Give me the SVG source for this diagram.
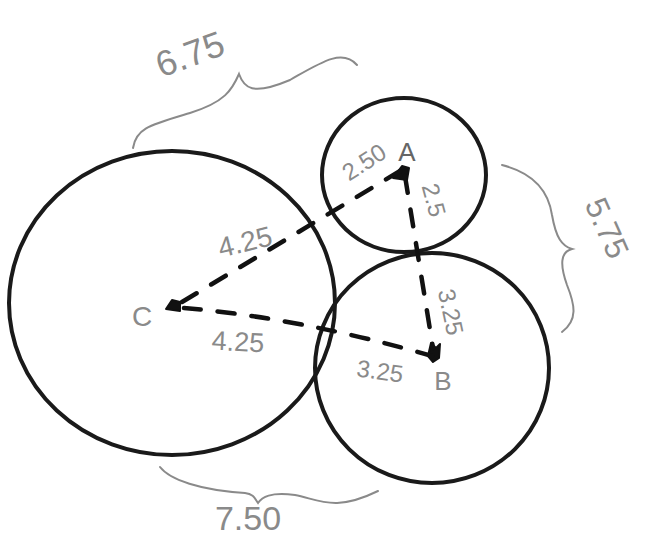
<svg xmlns="http://www.w3.org/2000/svg" width="650" height="541" viewBox="0 0 650 541">
<style>
.circ{fill:none;stroke:#1a1a1a;stroke-width:4}
.dash{fill:none;stroke:#111;stroke-width:4.5;stroke-dasharray:17 17;stroke-linecap:round}
.brace{fill:none;stroke:#8a8a8a;stroke-width:2;stroke-linecap:round}
.lbl{font-family:"Liberation Sans",Arial,sans-serif;fill:#8a8a8a;text-anchor:middle;dominant-baseline:central}
.tip{fill:#111;stroke:#111;stroke-width:2;stroke-linejoin:round}
</style>
<rect width="650" height="541" fill="#fff"/>
<g id="node-C">
<ellipse class="circ" cx="172" cy="303" rx="163" ry="152"/>
<polygon class="tip" points="166,309 172,300 180,302 180,311"/>
<text class="lbl" x="142" y="316" font-size="28">C</text>
</g>
<g id="node-A">
<ellipse class="circ" cx="404" cy="175" rx="82" ry="77"/>
<polygon class="tip" points="393,178 402,166 409,168 407,180"/>
<text class="lbl" x="407" y="152" font-size="26" style="fill:#666">A</text>
</g>
<g id="node-B">
<ellipse class="circ" cx="432" cy="368" rx="117" ry="115"/>
<polygon class="tip" points="428,356 431,343 436,348 440,344 439,358 433,362"/>
<text class="lbl" x="443" y="381" font-size="26">B</text>
</g>
<g id="connectors">
<path class="dash" d="M182,302 L400,171"/>
<path class="dash" d="M184,308 Q300,318 432,356"/>
<path class="dash" d="M405,176 L433,348"/>
</g>
<g id="dimensions">
<path class="brace" d="M133,148 C136,128 150,125 190,113 C225,102 232,90 239,74 C244,88 252,96 290,80 C320,63 342,48 357,65"/>
<path class="brace" d="M502,165 C530,172 548,188 552,215 C556,238 562,246 572,249 C560,252 560,265 567,285 C575,305 578,320 562,332"/>
<path class="brace" d="M160,467 C170,480 200,490 245,493 C254,494 255,499 258,503 C262,497 270,492 295,495 C320,500 335,512 378,491"/>
<text class="lbl" x="190" y="54" font-size="36" transform="rotate(-20 190 54)">6.75</text>
<text class="lbl" x="607" y="228" font-size="32" transform="rotate(66 607 228)">5.75</text>
<text class="lbl" x="248" y="518" font-size="34">7.50</text>
<text class="lbl" x="245" y="242" font-size="28" transform="rotate(-14 245 242)">4.25</text>
<text class="lbl" x="238" y="342" font-size="27" transform="rotate(3 238 342)">4.25</text>
<text class="lbl" x="380" y="371" font-size="24" transform="rotate(8 380 371)">3.25</text>
<text class="lbl" x="451" y="312" font-size="24" transform="rotate(78 451 312)">3.25</text>
<text class="lbl" x="364" y="162" font-size="24" transform="rotate(-33 364 162)">2.50</text>
<text class="lbl" x="434" y="200" font-size="24" transform="rotate(75 434 200)">2.5</text>
</g>
</svg>
